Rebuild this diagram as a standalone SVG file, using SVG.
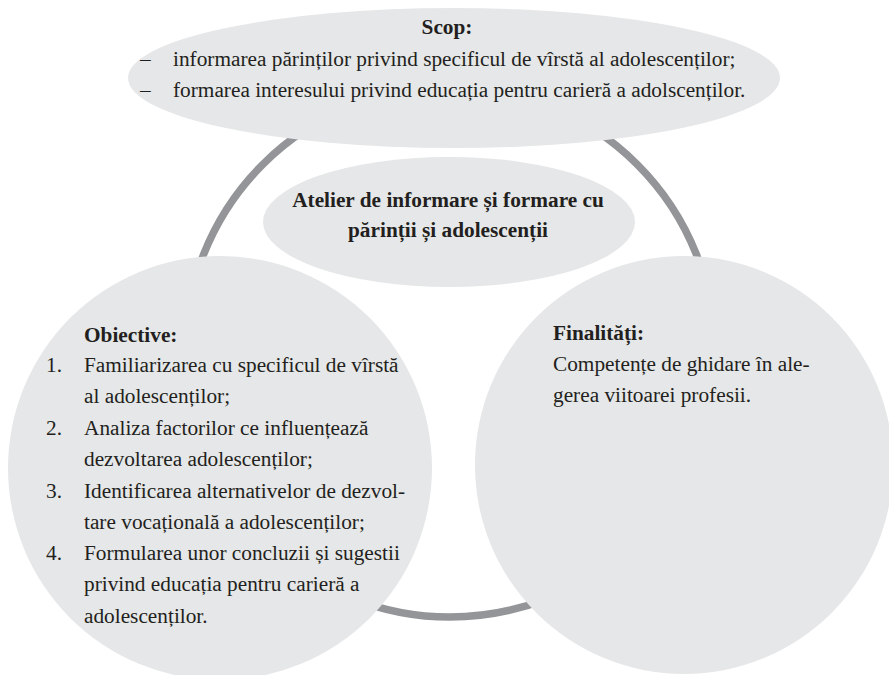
<svg xmlns="http://www.w3.org/2000/svg" width="889" height="675" viewBox="0 0 889 675">
<style>
.shape{fill:#e6e7e8;}
.ring{fill:none;stroke:#939598;stroke-width:7.5;}
text{font-family:"Liberation Serif","Times New Roman",serif;font-size:21.3px;fill:#231f20;}
.b{font-weight:bold;}
.m{text-anchor:middle;}
</style>
<rect width="889" height="675" fill="#ffffff"/>
<g id="connectors">
<circle class="ring" cx="450" cy="352" r="265"/>
</g>
<g id="scop">
<ellipse class="shape" cx="454" cy="78" rx="326" ry="70"/>
<text class="b m" x="447" y="34">Scop:</text>
<text x="140" y="66">–</text>
<text x="173" y="66">informarea părinților privind specificul de vîrstă al adolescenților;</text>
<text x="140" y="97">–</text>
<text x="173" y="97">formarea interesului privind educația pentru carieră a adolscenților.</text>
</g>
<g id="atelier">
<ellipse class="shape" cx="449" cy="222" rx="186" ry="65"/>
<text class="b m" x="448" y="207">Atelier de informare și formare cu</text>
<text class="b m" x="448" y="237">părinții și adolescenții</text>
</g>
<g id="obiective">
<circle class="shape" cx="220" cy="468" r="212"/>
<text class="b" x="84" y="342">Obiective:</text>
<text x="46" y="372">1.</text>
<text x="84" y="372">Familiarizarea cu specificul de vîrstă</text>
<text x="84" y="403">al adolescenților;</text>
<text x="46" y="435">2.</text>
<text x="84" y="435">Analiza factorilor ce influențează</text>
<text x="84" y="466">dezvoltarea adolescenților;</text>
<text x="46" y="498">3.</text>
<text x="84" y="498">Identificarea alternativelor de dezvol-</text>
<text x="84" y="529">tare vocațională a adolescenților;</text>
<text x="46" y="560">4.</text>
<text x="84" y="560">Formularea unor concluzii și sugestii</text>
<text x="84" y="591">privind educația pentru carieră a</text>
<text x="84" y="623">adolescenților.</text>
</g>
<g id="finalitati">
<circle class="shape" cx="684" cy="465" r="209"/>
<text class="b" x="553" y="340">Finalități:</text>
<text x="553" y="371">Competențe de ghidare în ale-</text>
<text x="553" y="402">gerea viitoarei profesii.</text>
</g>
</svg>
